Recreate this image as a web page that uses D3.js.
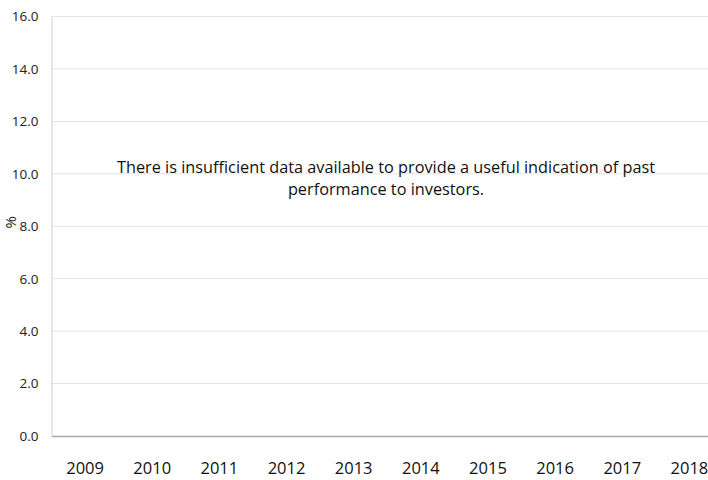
<!DOCTYPE html>
<html>
<head>
<meta charset="utf-8">
<script src="https://cdn.jsdelivr.net/npm/d3@7"></script>
<style>
  body { margin: 0; background: #fff; }
  svg { display: block; }
</style>
</head>
<body>
<svg></svg>
<script>
// Chart data (no performance values - only an empty axis frame)
const years = ["2009", "2010", "2011", "2012", "2013", "2014", "2015", "2016", "2017", "2018"];
const yTicks = [0, 2, 4, 6, 8, 10, 12, 14, 16];
const messageLines = [
    "There is insufficient data available to provide a useful indication of past",
    "performance to investors."
];
const yLabel = "%";

// Dimensions
const W = 708, H = 480;
const margin = { top: 16.5, right: -15, bottom: 44, left: 51.5 };
const width = W - margin.left - margin.right;
const height = H - margin.top - margin.bottom;

const svg = d3.select("svg")
    .attr("width", W)
    .attr("height", H);

const g = svg.append("g")
    .attr("transform", "translate(" + margin.left + "," + margin.top + ")");

// Scales
const x = d3.scaleBand()
    .domain(years)
    .range([0, width]);

const y = d3.scaleLinear()
    .domain([0, 16])
    .range([height, 0]);

// Gridlines
g.append("g")
    .selectAll("line")
    .data(yTicks.filter(d => d > 0))
    .enter().append("line")
    .attr("x1", 0)
    .attr("x2", width)
    .attr("y1", d => y(d))
    .attr("y2", d => y(d))
    .attr("stroke", "#e3e3e3")
    .attr("stroke-width", 1);

// Y axis
const yAxis = g.append("g")
    .call(d3.axisLeft(y).tickValues(yTicks).tickFormat(d3.format(".1f")).tickSize(0).tickPadding(13));
yAxis.select(".domain").attr("stroke", "#d0d0d0");
yAxis.selectAll("text")
    .attr("font-family", "'Open Sans', sans-serif")
    .attr("font-size", 13.5)
    .attr("fill", "#222");

// X axis
const xAxis = g.append("g")
    .attr("transform", "translate(0," + height + ")")
    .call(d3.axisBottom(x).tickSize(0).tickPadding(26));
xAxis.select(".domain").attr("stroke", "#a6a6a6").attr("stroke-width", 1.5);
xAxis.selectAll("text")
    .attr("font-family", "'Open Sans', sans-serif")
    .attr("font-size", 16.5)
    .attr("fill", "#111");

// Y axis label (rotated percent sign)
svg.append("text")
    .attr("transform", "translate(16," + (margin.top + y(8) - 4) + ") rotate(-90)")
    .attr("text-anchor", "middle")
    .attr("font-family", "'Open Sans', sans-serif")
    .attr("font-size", 15)
    .attr("fill", "#222")
    .text(yLabel);

// Message
svg.append("g")
    .selectAll("text")
    .data(messageLines)
    .enter().append("text")
    .attr("x", 386)
    .attr("y", (d, i) => 172.5 + i * 22.5)
    .attr("text-anchor", "middle")
    .attr("font-family", "'Open Sans', sans-serif")
    .attr("font-size", 16.3)
    .attr("fill", "#111")
    .text(d => d);
</script>
</body>
</html>
